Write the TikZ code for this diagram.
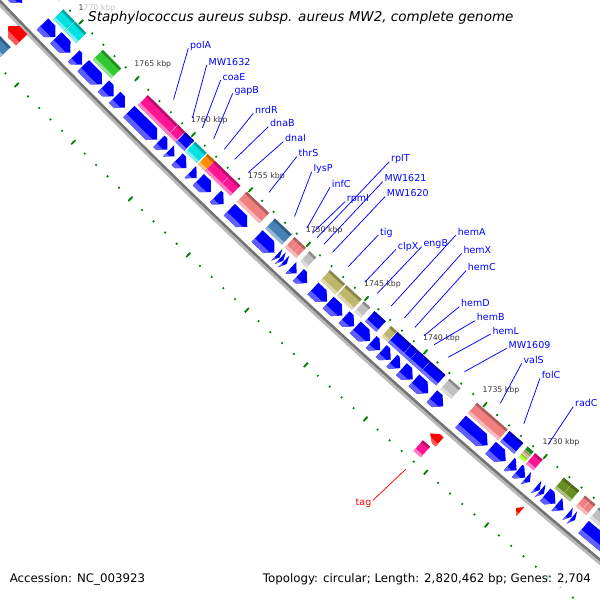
\documentclass[tikz,border=0pt]{standalone}
\usepackage{fontspec}
\setmainfont{DejaVu Sans}
\usetikzlibrary{calc}
\definecolor{cBlue}{RGB}{0,0,255}
\definecolor{cBlueL}{RGB}{95,95,255}
\definecolor{cCyan}{RGB}{0,225,225}
\definecolor{cGreen}{RGB}{50,200,50}
\definecolor{cPink}{RGB}{255,20,147}
\definecolor{cOrange}{RGB}{255,140,0}
\definecolor{cSalmon}{RGB}{240,128,128}
\definecolor{cSteel}{RGB}{70,130,180}
\definecolor{cGray}{RGB}{192,192,192}
\definecolor{cKhaki}{RGB}{189,183,107}
\definecolor{cOlive}{RGB}{107,142,35}
\definecolor{cTick}{RGB}{0,128,0}
\definecolor{cRed}{RGB}{255,0,0}
\definecolor{cRedL}{RGB}{255,90,90}
\definecolor{cTan}{RGB}{210,180,140}
\definecolor{cLime}{RGB}{173,255,47}
\definecolor{cDGreen}{RGB}{34,139,34}
\definecolor{bbDark}{RGB}{115,115,115}
\definecolor{bbLight}{RGB}{185,185,185}
\definecolor{tickTxt}{RGB}{55,55,55}
\tikzset{
  declare function={
    kk(\x)=(\x-1750)*15.9;
    AA(\x,\y)=-(1+\y/7137)*(kk(\x)-0.003272*kk(\x)/100*kk(\x)/100*kk(\x)/100);
    BB(\x,\y)=\y-0.70057*kk(\x)/100*kk(\x)/100*(1+\y/7137);
    gx(\x,\y)=308.3+AA(\x,\y)*0.72998-BB(\x,\y)*0.68347;
    gy(\x,\y)=244.5+AA(\x,\y)*0.68347+BB(\x,\y)*0.72998;
  },
  tickS/.style={cTick, line width=1.7pt},
  tickL/.style={cTick, line width=1.7pt},
  lbl/.style={text=cBlue, font=\fontsize{9.5}{11}\selectfont, inner sep=1.7pt},
  lead/.style={cBlue, line width=0.75pt},
  lblR/.style={text=cRed, font=\fontsize{9.5}{11}\selectfont, inner sep=1.5pt},
  leadR/.style={cRed, line width=0.75pt},
  ticklbl/.style={text=tickTxt, font=\fontsize{7.8}{9}\selectfont, inner sep=0pt},
  legend/.style={text=black, font=\fontsize{11.8}{13}\selectfont, inner sep=0pt},
}
\newcommand\GP[2]{({gx(#1,#2)},{gy(#1,#2)})}
% box: start, end, d inner, d outer, colour
\newcommand\featbox[5]{%
  \pgfmathsetmacro\fdA{#3+0.18*(#4-#3)}%
  \pgfmathsetmacro\fdB{#4-0.22*(#4-#3)}%
  \fill[#5] \GP{#1}{#3} -- \GP{#2}{#3} -- \GP{#2}{#4} -- \GP{#1}{#4} -- cycle;
  \fill[#5!72!black] \GP{#1}{#3} -- \GP{#2}{#3} -- \GP{#2}{\fdA} -- \GP{#1}{\fdA} -- cycle;
  \fill[#5!55!white] \GP{#1}{\fdB} -- \GP{#2}{\fdB} -- \GP{#2}{#4} -- \GP{#1}{#4} -- cycle;
}
% arrow: tail, tip, d inner, d outer, colour, light colour
\newcommand\farrow[6]{%
  \pgfmathsetmacro\fhs{abs(#2-#1)>0.5 ? #2-0.5*(#2-#1)/abs(#2-#1) : #1}%
  \pgfmathsetmacro\fdm{(#3+#4)/2}%
  \pgfmathsetmacro\fdl{#4-0.3*(#4-#3)}%
  \pgfmathsetmacro\fhm{\fhs+0.6*(#2-\fhs)}%
  \fill[#5] \GP{#1}{#3} -- \GP{\fhs}{#3} -- \GP{#2}{\fdm} -- \GP{\fhs}{#4} -- \GP{#1}{#4} -- cycle;
  \fill[#6] \GP{#1}{\fdl} -- \GP{\fhm}{\fdl} -- \GP{\fhs}{#4} -- \GP{#1}{#4} -- cycle;
}
\newcommand\barrow[2]{\farrow{#1}{#2}{21}{37}{cBlue}{cBlueL}}
\newcommand\abox[3]{\featbox{#1}{#2}{4}{18}{#3}}
% label: name, kbp, position, text
\newcommand\glabel[4]{%
  \path \GP{#2}{-11} coordinate (g-#1);
  \node[lbl, anchor=base west] (l-#1) at #3 {#4};
  \draw[lead] (g-#1) -- (l-#1.base west);
}
\begin{document}
\begin{tikzpicture}[x=1pt,y=-1pt]
\useasboundingbox (0,0) rectangle (600,600);
\fill[white] (0,0) rectangle (600,600);
\begin{scope}
\clip (0,0) rectangle (600,600);
% ---------- ticks
\foreach \p in {1718,...,1778} {
  \draw[tickS] \GP{\p}{-0.9} -- \GP{\p}{0.9};
  \draw[tickS] \GP{\p}{89.1} -- \GP{\p}{90.9};
}
\foreach \p in {1720,1725,...,1775} {
  \draw[tickL] \GP{\p}{-3} -- \GP{\p}{3};
  \draw[tickL] \GP{\p}{87} -- \GP{\p}{93};
}
\foreach \p in {1730,1735,...,1770} {
  \path \GP{\p}{0} node[ticklbl, anchor=base west, xshift=-2.7pt, yshift=11.7pt] {\p\ kbp};
}
% ---------- ring A (COG colours)
\abox{1771.35}{1770.32}{cCyan}
\abox{1770.28}{1769.27}{cCyan}
\abox{1767.8}{1766.15}{cGreen}
\abox{1763.78}{1761.15}{cPink}
\abox{1761.11}{1760.5}{cPink}
\abox{1760.45}{1759.7}{cBlue}
\abox{1759.6}{1758.6}{cCyan}
\abox{1758.5}{1757.9}{cOrange}
\abox{1757.88}{1756.58}{cPink}
\abox{1756.55}{1755.65}{cPink}
\abox{1755.1}{1753.15}{cSalmon}
\abox{1752.65}{1751.2}{cSteel}
\abox{1750.95}{1750.63}{cSalmon}
\abox{1750.61}{1750.3}{cSalmon}
\abox{1750.28}{1749.97}{cSalmon}
\abox{1749.65}{1749.08}{cGray}
\abox{1747.9}{1746.62}{cKhaki}
\abox{1746.5}{1745.2}{cKhaki}
\abox{1745.0}{1744.45}{cGray}
\abox{1744.1}{1743.15}{cBlue}
\abox{1742.7}{1742.2}{cKhaki}
\abox{1742.15}{1740.98}{cBlue}
\abox{1740.95}{1740.42}{cBlue}
\abox{1740.4}{1739.4}{cBlue}
\abox{1739.37}{1738.1}{cBlue}
\abox{1737.75}{1736.84}{cGray}
\abox{1735.45}{1732.91}{cSalmon}
\abox{1732.75}{1731.6}{cBlue}
\featbox{1731.25}{1730.75}{4}{8.7}{cDGreen}
\featbox{1731.25}{1730.75}{8.7}{13.3}{cTan}
\featbox{1731.25}{1730.75}{13.3}{18}{cLime}
\abox{1730.62}{1730.0}{cPink}
\abox{1728.25}{1727.62}{cOlive}
\abox{1727.6}{1726.98}{cOlive}
\abox{1726.5}{1726.08}{cSalmon}
\abox{1726.05}{1725.65}{cSalmon}
\abox{1725.35}{1723.5}{cGray}
% ---------- ring B (CDS arrows)
\barrow{1775.8}{1773.45}
\barrow{1771.6}{1770.45}
\barrow{1770.4}{1769.1}
\barrow{1768.8}{1768.05}
\barrow{1767.95}{1766.3}
\barrow{1766.15}{1765.25}
\barrow{1765.15}{1764.25}
\barrow{1763.9}{1761.4}
\barrow{1761.25}{1760.5}
\barrow{1760.4}{1759.9}
\barrow{1759.65}{1758.85}
\barrow{1758.5}{1757.95}
\barrow{1757.8}{1756.7}
\barrow{1756.3}{1755.6}
\barrow{1755.1}{1753.55}
\barrow{1752.7}{1751.2}
\barrow{1751.0}{1750.75}
\barrow{1750.7}{1750.45}
\barrow{1750.4}{1750.15}
\barrow{1749.8}{1749.3}
\barrow{1749.15}{1748.4}
\barrow{1747.9}{1746.7}
\barrow{1746.6}{1745.4}
\barrow{1745.25}{1744.4}
\barrow{1744.3}{1743.05}
\barrow{1742.95}{1742.2}
\barrow{1742.1}{1741.3}
\barrow{1741.2}{1740.5}
\barrow{1740.4}{1739.45}
\barrow{1739.35}{1738.15}
\barrow{1737.85}{1736.9}
\barrow{1735.45}{1733.2}
\barrow{1732.95}{1731.7}
\barrow{1731.4}{1730.8}
\barrow{1730.75}{1730.1}
\barrow{1730.05}{1729.7}
\barrow{1729.2}{1728.9}
\barrow{1728.85}{1728.55}
\barrow{1728.45}{1727.6}
\barrow{1727.5}{1726.95}
\barrow{1726.6}{1726.3}
\barrow{1726.25}{1726.0}
\barrow{1725.3}{1723.0}
% ---------- backbone
\draw[bbLight, line width=2.8pt] plot[domain=1716:1780, samples=60] ({gx(\x,46.4)},{gy(\x,46.4)});
\draw[bbDark, line width=2.6pt] plot[domain=1716:1780, samples=60] ({gx(\x,43.6)},{gy(\x,43.6)});
% ---------- features outside the backbone
\farrow{1771.8}{1773.0}{47}{63}{cRed}{cRedL}
\featbox{1773.3}{1771.95}{68}{82}{cSteel}
\farrow{1735.6}{1736.4}{52}{64}{cRed}{cRedL}
\featbox{1736.45}{1735.85}{68}{82}{cPink}
\farrow{1728.95}{1729.3}{52}{64}{cRed}{cRedL}
% ---------- labels
\glabel{polA}{1762.44}{(188.3,48.3)}{polA}
\glabel{MW1632}{1760.77}{(206.7,65)}{MW1632}
\glabel{coaE}{1759.89}{(220.7,80)}{coaE}
\glabel{gapB}{1758.90}{(232.7,93.3)}{gapB}
\glabel{nrdR}{1757.96}{(253.3,113.3)}{nrdR}
\glabel{dnaB}{1757.05}{(268.3,126.7)}{dnaB}
\glabel{dnaI}{1755.86}{(283.3,141.7)}{dnaI}
\glabel{thrS}{1754.05}{(296.7,156.7)}{thrS}
\glabel{lysP}{1751.84}{(311.7,171.7)}{lysP}
\glabel{infC}{1750.77}{(330,187.3)}{infC}
\glabel{rpmI}{1750.3}{(345,201.7)}{rpmI}
\glabel{rplT}{1749.89}{(389.3,161.7)}{rplT}
\glabel{MW1621}{1749.29}{(382.7,181.7)}{MW1621}
\glabel{MW1620}{1748.55}{(385,196.7)}{MW1620}
\glabel{tig}{1747.21}{(378.3,235)}{tig}
\glabel{clpX}{1745.78}{(396,249.3)}{clpX}
\glabel{engB}{1744.72}{(421.7,246.7)}{engB}
\glabel{hemA}{1743.54}{(456,235)}{hemA}
\glabel{hemX}{1742.42}{(461.7,253.3)}{hemX}
\glabel{hemC}{1741.53}{(466,270.7)}{hemC}
\glabel{hemD}{1740.75}{(459.3,306.7)}{hemD}
\glabel{hemB}{1739.90}{(475,320.7)}{hemB}
\glabel{hemL}{1738.71}{(490.7,334)}{hemL}
\glabel{MW1609}{1737.34}{(506.7,348.3)}{MW1609}
\glabel{valS}{1734.33}{(521.7,363.3)}{valS}
\glabel{folC}{1732.37}{(540,378.3)}{folC}
\glabel{radC}{1730.36}{(573.3,406.7)}{radC}
\path \GP{1736.06}{101} coordinate (g-tag);
\node[lblR, anchor=base east] (l-tag) at (373,505) {tag};
\draw[leadR] (g-tag) -- ($(l-tag.north east)!0.3!(l-tag.south east)$);
% ---------- title and legend
\fill[white, opacity=0.7] (84,0) rectangle (516,31);
\node[anchor=base west, inner sep=0pt, font=\fontsize{13.5}{15}\selectfont\itshape] (title) at (88,21.5) {Staphylococcus aureus subsp. aureus MW2, complete genome};
\fill[white, opacity=0.7] (4,570) rectangle (147,592);
\fill[white, opacity=0.7] (256,570) rectangle (598,592);
\node[legend, anchor=base west] (acc) at (9.6,582) {Accession: NC\_003923};
\node[legend, anchor=base west] (topo) at (262.7,582) {Topology: circular; Length: 2,820,462 bp; Genes: 2,704};
\end{scope}
\end{tikzpicture}
\end{document}
